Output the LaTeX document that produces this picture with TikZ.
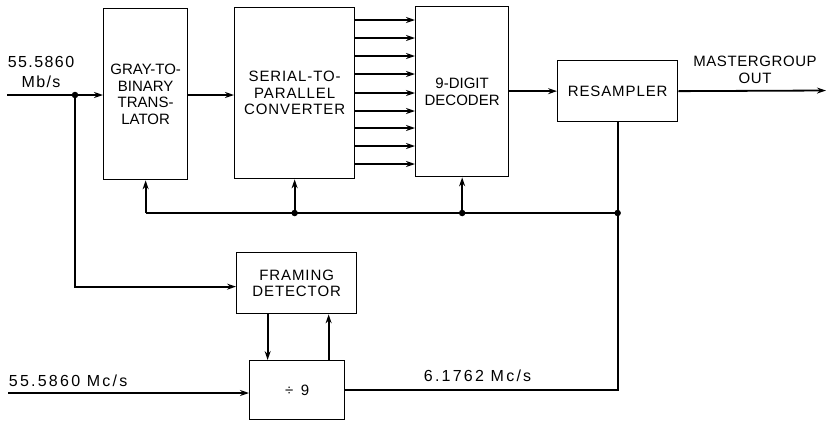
\documentclass[tikz,border=0pt]{standalone}
\usepackage{fontspec}
\setmainfont{Liberation Sans}
\usetikzlibrary{arrows.meta}
\begin{document}
\begin{tikzpicture}[x=1pt,y=-1pt,
  line width=1.8pt,
  box/.style={draw, line width=1.3pt, inner sep=0pt, align=center,
    font=\fontsize{15}{16.5}\selectfont, anchor=north west},
  wide/.style={font=\fontsize{15}{16.5}\selectfont\addfontfeature{LetterSpace=6}},
  lbl/.style={inner sep=0pt, align=center,
    font=\fontsize{16}{20}\selectfont\addfontfeature{LetterSpace=14}},
  arr/.style={-{Stealth[length=9pt,width=6pt]}},
  dot/.style={circle, fill, inner sep=0pt, minimum size=6.5pt}]
\useasboundingbox (0,0) rectangle (828,421);

% blocks
\node[box, minimum width=84pt, minimum height=171pt] (gray) at (103,8)
  {GRAY-TO-\\BINARY\\TRANS-\\LATOR};
\node[box, wide, minimum width=120pt, minimum height=171pt] (serial) at (234,7)
  {SERIAL-TO-\\PARALLEL\\CONVERTER};
\node[box, minimum width=93pt, minimum height=170pt] (decoder) at (415,6)
  {9-DIGIT\\DECODER};
\node[box, wide, minimum width=120pt, minimum height=61pt] (resampler) at (557,60)
  {RESAMPLER};
\node[box, wide, minimum width=120pt, minimum height=61pt] (framing) at (236,252)
  {FRAMING\\DETECTOR};
\node[box, minimum width=95pt, minimum height=59pt] (div) at (249,360)
  {÷\enspace 9};

% labels
\node[lbl, font=\fontsize{16}{20}\selectfont\addfontfeature{LetterSpace=9}] (lin) at (41,71.5) {55.5860\\Mb/s};
\node[lbl, anchor=west] (lclk) at (8,381) {55.5860 Mc/s};
\node[lbl, anchor=west] (lsix) at (423,376) {6.1762 Mc/s};
\node[lbl, font=\fontsize{15}{17}\selectfont\addfontfeature{LetterSpace=4}] (lout) at (755,70) {MASTERGROUP\\OUT};

% coordinates
\coordinate (in1) at (7,95);
\coordinate (j1) at (75,95);
\coordinate (in2) at (8,393);
\coordinate (out) at (826,90.5);
\coordinate (bus) at (0,213);

% main data path
\draw[arr] (in1) -- (in1 -| gray.west);
\node[dot] (dj1) at (j1) {};
\draw[arr] (j1) |- ([yshift=-3.5pt]framing.west);
\draw[arr] (gray.east |- in1) -- (serial.west |- in1);
\foreach \yy in {20,38,56,74,93,111,128,146,164}
  \draw[arr] (serial.east |- 0,\yy) -- (decoder.west |- 0,\yy);
\draw[arr] (decoder.east |- resampler.west) -- (resampler.west);
\draw[arr] (resampler.east) -- (out);

% clock bus
\draw (gray.south |- bus) -- (resampler.south |- bus);
\draw[arr] (gray.south |- bus) -- (gray.south);
\draw[arr] (serial.south |- bus) -- (serial.south);
\draw[arr] (decoder.south |- bus) -- (decoder.south);
\node[dot] (d1) at (serial.south |- bus) {};
\node[dot] (d2) at (decoder.south |- bus) {};
\node[dot] (d3) at (resampler.south |- bus) {};
\draw (resampler.south) |- (div.east);

% framing / divider
\draw[arr] ([xshift=-29pt]framing.south) -- ([xshift=-29pt]framing.south |- div.north);
\draw[arr] ([xshift=31.5pt]div.north) -- ([xshift=31.5pt]div.north |- framing.south);
\draw[arr] (in2) -- (in2 -| div.west);
\end{tikzpicture}
\end{document}
